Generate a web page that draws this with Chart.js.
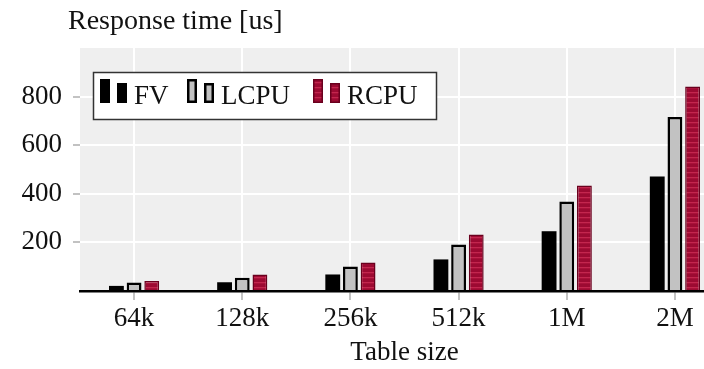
<!DOCTYPE html>
<html>
<head>
<meta charset="utf-8">
<script src="https://cdn.jsdelivr.net/npm/chart.js@4"></script>
<style>
  html, body { margin: 0; padding: 0; background: #fff; overflow: hidden; }
  #wrap { width: 740px; height: 369px; }
</style>
</head>
<body>
<div id="wrap"><canvas id="c" width="740" height="369"></canvas></div>
<script>
// Table sizes and measured response times (microseconds)
const tableSizes = ['64k', '128k', '256k', '512k', '1M', '2M'];
const fvTimes   = [21, 36, 68, 130, 246, 471];
const lcpuTimes = [35, 55, 101, 191, 368, 716];
const rcpuTimes = [41, 68, 117, 233, 434, 842];
const yTicks    = [200, 400, 600, 800];

const SERIF = '"Liberation Serif", "DejaVu Serif", serif';

// striped crimson fill for the RCPU bars
function stripePattern() {
  const p = document.createElement('canvas');
  p.width = 8; p.height = 5;
  const g = p.getContext('2d');
  g.fillStyle = '#9c0a32';
  g.fillRect(0, 0, 8, 5);
  g.fillStyle = '#c3264e';
  g.fillRect(0, 2, 8, 1.3);
  return g.createPattern(p, 'repeat');
}
const ctx0 = document.getElementById('c').getContext('2d');
const redFill = stripePattern();

// grey plot background behind the grid
const plotBackground = {
  id: 'plotBackground',
  beforeDraw(chart) {
    const { ctx, chartArea: a } = chart;
    ctx.save();
    ctx.fillStyle = '#efefef';
    ctx.fillRect(a.left, a.top, a.right - a.left, a.bottom - a.top);
    ctx.restore();
  }
};

// axis caption above the y axis
const yCaption = {
  id: 'yCaption',
  afterDraw(chart) {
    const { ctx } = chart;
    ctx.save();
    ctx.fillStyle = '#111';
    ctx.font = '28px ' + SERIF;
    ctx.textBaseline = 'alphabetic';
    ctx.fillText('Response time [us]', 68, 29);
    ctx.restore();
  }
};

// framed legend with two-bar swatches
const barLegend = {
  id: 'barLegend',
  afterDatasetsDraw(chart) {
    const { ctx } = chart;
    const box = { x: 93.5, y: 72.5, w: 343, h: 47 };
    ctx.save();
    ctx.fillStyle = '#ffffff';
    ctx.fillRect(box.x, box.y, box.w, box.h);
    ctx.strokeStyle = '#333';
    ctx.lineWidth = 1.5;
    ctx.strokeRect(box.x, box.y, box.w, box.h);
    const starts = [100, 187, 313];
    ctx.font = '27px ' + SERIF;
    ctx.textBaseline = 'alphabetic';
    chart.data.datasets.forEach((ds, i) => {
      const x = starts[i];
      const bars = [[x, 79, 10, 24], [x + 17, 83, 10, 20]];
      bars.forEach(([bx, by, bw, bh]) => {
        ctx.fillStyle = ds.backgroundColor;
        ctx.fillRect(bx, by, bw, bh);
        if (ds.borderWidth) {
          ctx.strokeStyle = ds.borderColor;
          ctx.lineWidth = ds.borderWidth;
          const h = ds.borderWidth / 2;
          ctx.strokeRect(bx + h, by + h, bw - ds.borderWidth, bh - ds.borderWidth);
        }
      });
      ctx.fillStyle = '#111';
      ctx.fillText(ds.label, x + 34, 104);
    });
    ctx.restore();
  }
};

new Chart(ctx0, {
  type: 'bar',
  data: {
    labels: tableSizes,
    datasets: [
      { label: 'FV', data: fvTimes, backgroundColor: '#000000', borderColor: '#000000', borderWidth: 0 },
      { label: 'LCPU', data: lcpuTimes, backgroundColor: '#c2c2c2', borderColor: '#000000', borderWidth: 2.5 },
      { label: 'RCPU', data: rcpuTimes, backgroundColor: redFill, borderColor: '#6a001e', borderWidth: 1.5 }
    ]
  },
  options: {
    responsive: false,
    animation: false,
    events: [],
    layout: { padding: { top: 48, right: 11, left: 0, bottom: 0 } },
    datasets: { bar: { categoryPercentage: 0.49, barPercentage: 0.84 } },
    plugins: { legend: { display: false }, tooltip: { enabled: false }, title: { display: false } },
    scales: {
      x: {
        offset: true,
        grid: { offset: false, color: '#ffffff', lineWidth: 2, tickColor: '#9a9a9a', tickLength: 9, tickWidth: 1.2 },
        border: { display: true, color: '#000000', width: 2.5, z: 1 },
        ticks: { color: '#111', font: { family: SERIF, size: 27 }, padding: 3 },
        title: { display: true, text: 'Table size', color: '#111', font: { family: SERIF, size: 27 }, padding: { top: -2, bottom: 0 } },
        afterFit(s) { s.height = 78; }
      },
      y: {
        min: 0, max: 1000,
        afterBuildTicks(s) { s.ticks = [0, ...yTicks, 1000].map(v => ({ value: v })); },
        grid: {
          color: c => (c.tick && yTicks.includes(c.tick.value)) ? '#ffffff' : 'rgba(0,0,0,0)',
          tickColor: c => (c.tick && yTicks.includes(c.tick.value)) ? '#9a9a9a' : 'rgba(0,0,0,0)',
          lineWidth: 2, tickLength: 7, tickWidth: 1.2
        },
        border: { display: false },
        ticks: {
          color: '#111', font: { family: SERIF, size: 27 }, padding: 11,
          callback: v => yTicks.includes(v) ? String(v) : ''
        },
        afterFit(s) { s.width = 80; }
      }
    }
  },
  plugins: [plotBackground, barLegend, yCaption]
});
</script>
</body>
</html>
